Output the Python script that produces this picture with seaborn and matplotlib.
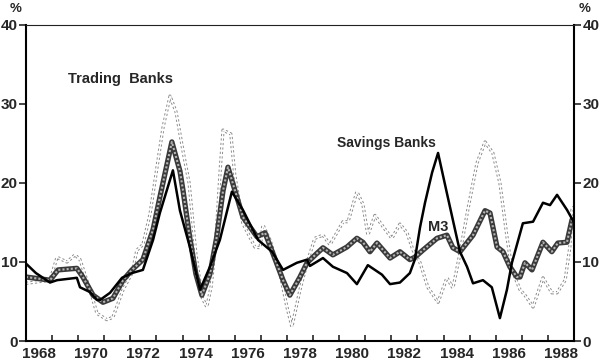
import numpy as np
import pandas as pd
import matplotlib
matplotlib.use('Agg')
import matplotlib.pyplot as plt
import seaborn as sns

# Crecimiento anual (%)
savings_years = [1968.00, 1968.38, 1968.92, 1969.19, 1969.95, 1970.07, 1970.45, 1970.72, 1970.84,
                 1971.22, 1971.68, 1972.06, 1972.48, 1972.87, 1973.13, 1973.63, 1973.90, 1974.28,
                 1974.67, 1975.05, 1975.43, 1975.89, 1976.31, 1976.89, 1977.43, 1977.85, 1978.38,
                 1978.77, 1978.88, 1979.38, 1979.76, 1980.30, 1980.68, 1981.10, 1981.64, 1981.95,
                 1982.33, 1982.71, 1982.90, 1983.10, 1983.29, 1983.56, 1983.79, 1984.13, 1984.44,
                 1984.63, 1984.90, 1985.13, 1985.51, 1985.85, 1986.16, 1986.43, 1986.62, 1987.04,
                 1987.43, 1987.81, 1988.08, 1988.35, 1988.73, 1989.00]
savings_vals = [9.8, 8.6, 7.4, 7.7, 8.0, 6.8, 6.2, 5.2, 5.2,
                6.1, 8.0, 8.6, 9.0, 12.8, 16.2, 21.6, 16.5, 11.9,
                6.5, 9.4, 12.8, 18.9, 16.6, 12.8, 11.3, 9.0, 9.9,
                10.3, 9.5, 10.5, 9.4, 8.6, 7.2, 9.6, 8.4, 7.2,
                7.4, 8.6, 10.3, 14.4, 17.5, 21.3, 23.8, 18.7, 14.1,
                11.3, 9.4, 7.3, 7.7, 6.8, 2.9, 6.5, 9.9, 14.9,
                15.1, 17.5, 17.2, 18.5, 16.6, 15.0]

trading_years = [1968.00, 1968.92, 1969.19, 1969.57, 1969.88, 1970.07, 1970.45, 1970.72, 1971.10,
                 1971.33, 1971.72, 1972.06, 1972.25, 1972.48, 1972.75, 1973.02, 1973.25, 1973.52,
                 1973.75, 1974.02, 1974.25, 1974.51, 1974.75, 1974.93, 1975.10, 1975.30, 1975.45,
                 1975.55, 1975.85, 1976.00, 1976.31, 1976.77, 1976.97, 1977.08, 1977.35, 1977.73,
                 1978.00, 1978.19, 1978.50, 1978.77, 1979.07, 1979.38, 1979.65, 1980.15, 1980.34,
                 1980.68, 1980.91, 1981.10, 1981.37, 1981.70, 1982.02, 1982.33, 1982.60, 1982.83,
                 1983.10, 1983.40, 1983.79, 1984.13, 1984.36, 1984.63, 1984.93, 1985.28, 1985.59,
                 1985.89, 1986.16, 1986.43, 1986.62, 1986.93, 1987.12, 1987.43, 1987.81, 1988.15,
                 1988.35, 1988.66, 1988.84, 1988.92, 1989.00]
trading_vals = [7.3, 7.7, 10.6, 10.0, 10.9, 10.3, 6.5, 3.5, 2.7,
                3.0, 6.5, 8.6, 11.5, 12.2, 16.0, 22.0, 27.0, 31.0,
                29.0, 24.0, 20.0, 11.0, 5.5, 4.3, 7.0, 14.0, 22.0,
                26.7, 26.2, 21.0, 14.9, 11.9, 11.8, 14.7, 12.8, 8.6,
                4.3, 1.8, 6.5, 9.9, 13.0, 13.4, 12.2, 15.1, 15.1,
                18.9, 17.3, 13.4, 15.9, 14.4, 13.0, 14.8, 13.7, 11.5,
                9.9, 6.8, 4.9, 8.0, 6.7, 11.1, 16.6, 22.5, 25.2,
                23.8, 20.0, 13.2, 9.0, 6.5, 5.8, 4.3, 8.0, 6.1,
                6.1, 7.7, 11.9, 16.6, 17.0]

m3_years = [1968.00, 1968.92, 1969.23, 1969.95, 1970.18, 1970.57, 1970.95, 1971.33, 1971.72,
            1972.06, 1972.48, 1972.87, 1973.13, 1973.59, 1973.90, 1974.02, 1974.28, 1974.51,
            1974.74, 1975.05, 1975.30, 1975.55, 1975.74, 1976.31, 1976.85, 1977.16, 1977.46,
            1977.85, 1978.11, 1978.50, 1978.77, 1979.15, 1979.38, 1979.76, 1980.30, 1980.68,
            1980.91, 1981.18, 1981.45, 1981.95, 1982.33, 1982.71, 1982.90, 1983.21, 1983.75,
            1984.13, 1984.36, 1984.63, 1985.13, 1985.59, 1985.78, 1986.05, 1986.28, 1986.54,
            1986.81, 1986.93, 1987.12, 1987.39, 1987.81, 1988.15, 1988.38, 1988.73, 1988.92, 1989.00]
m3_vals = [8.1, 7.7, 9.0, 9.2, 8.1, 5.8, 4.9, 5.4, 7.7,
           9.0, 10.3, 14.1, 18.2, 25.2, 21.5, 19.0, 13.0, 8.5,
           5.8, 8.5, 13.0, 19.0, 22.0, 15.7, 13.2, 13.7, 11.1,
           7.7, 5.8, 8.1, 9.9, 11.1, 11.8, 10.9, 11.9, 13.0,
           12.5, 11.3, 12.4, 10.5, 11.3, 10.3, 10.6, 11.5, 13.0,
           13.4, 11.8, 11.3, 13.4, 16.5, 16.2, 11.9, 11.3, 9.4,
           8.1, 8.1, 9.9, 9.0, 12.5, 11.3, 12.4, 12.5, 15.3, 15.0]

x_labels = ['1968', '1970', '1972', '1974', '1976', '1978', '1980', '1982', '1984', '1986', '1988']
y_ticks = [0, 10, 20, 30, 40]

df_sav = pd.DataFrame({'Año': savings_years, 'Valor': savings_vals})
df_trd = pd.DataFrame({'Año': trading_years, 'Valor': trading_vals})
df_m3 = pd.DataFrame({'Año': m3_years, 'Valor': m3_vals})

sns.set_style('white')
plt.rcParams['font.family'] = ['Liberation Sans', 'DejaVu Sans']

fig = plt.figure(figsize=(6, 3.62), dpi=100)
ax = fig.add_axes([0.0433, 0.058, 0.9134, 0.873])

# Trading Banks: linea punteada hueca
sns.lineplot(data=df_trd, x='Año', y='Valor', ax=ax, estimator=None, sort=False,
             color='#8c8c8c', lw=2.3, linestyle=(0, (0.7, 0.7)))
sns.lineplot(data=df_trd, x='Año', y='Valor', ax=ax, estimator=None, sort=False,
             color='white', lw=0.9)

# M3: linea gruesa con relleno punteado
sns.lineplot(data=df_m3, x='Año', y='Valor', ax=ax, estimator=None, sort=False,
             color='#3a3a3a', lw=3.8)
sns.lineplot(data=df_m3, x='Año', y='Valor', ax=ax, estimator=None, sort=False,
             color='#b5b5b5', lw=1.5, linestyle=(0, (1, 1)))

# Savings Banks
sns.lineplot(data=df_sav, x='Año', y='Valor', ax=ax, estimator=None, sort=False,
             color='black', lw=1.8)

ax.set_xlim(1968, 1989)
ax.set_ylim(0, 40)
ax.set_xlabel('')
ax.set_ylabel('')

# ticks anuales hacia dentro, etiquetas centradas en el año
ax.set_xticks(np.arange(1968, 1990, 1))
ax.set_xticklabels([])
ax.set_xticks([int(l) + 0.5 for l in x_labels], minor=True)
ax.set_xticklabels(x_labels, minor=True, fontsize=11, fontweight='bold')
ax.tick_params(axis='x', which='major', direction='in', length=4, width=1.2, bottom=True)
ax.tick_params(axis='x', which='minor', length=0, pad=4)

ax.set_yticks(y_ticks)
ax.set_yticklabels([str(v) for v in y_ticks], fontsize=11, fontweight='bold')
ax.tick_params(axis='y', direction='out', length=5, width=1.2, left=True, right=True,
               labelleft=True, labelright=True, pad=1)

for s in ['left', 'right', 'bottom']:
    ax.spines[s].set_linewidth(1.5)
    ax.spines[s].set_color('black')
ax.spines['top'].set_linewidth(0.8)
ax.spines['top'].set_color('#222222')

ax.text(-0.008, 1.03, '%', transform=ax.transAxes, ha='right', va='bottom',
        fontsize=9.5, fontweight='bold')
ax.text(1.008, 1.03, '%', transform=ax.transAxes, ha='left', va='bottom',
        fontsize=9.5, fontweight='bold')

ax.text(1969.6, 33.2, 'Trading  Banks', fontsize=10.5, fontweight='bold', va='center')
ax.text(1979.9, 25.1, 'Savings Banks', fontsize=10, fontweight='bold', va='center')
ax.text(1983.4, 14.4, 'M3', fontsize=10.5, fontweight='bold', va='center')

plt.savefig('out.png', dpi=100)
plt.close()
